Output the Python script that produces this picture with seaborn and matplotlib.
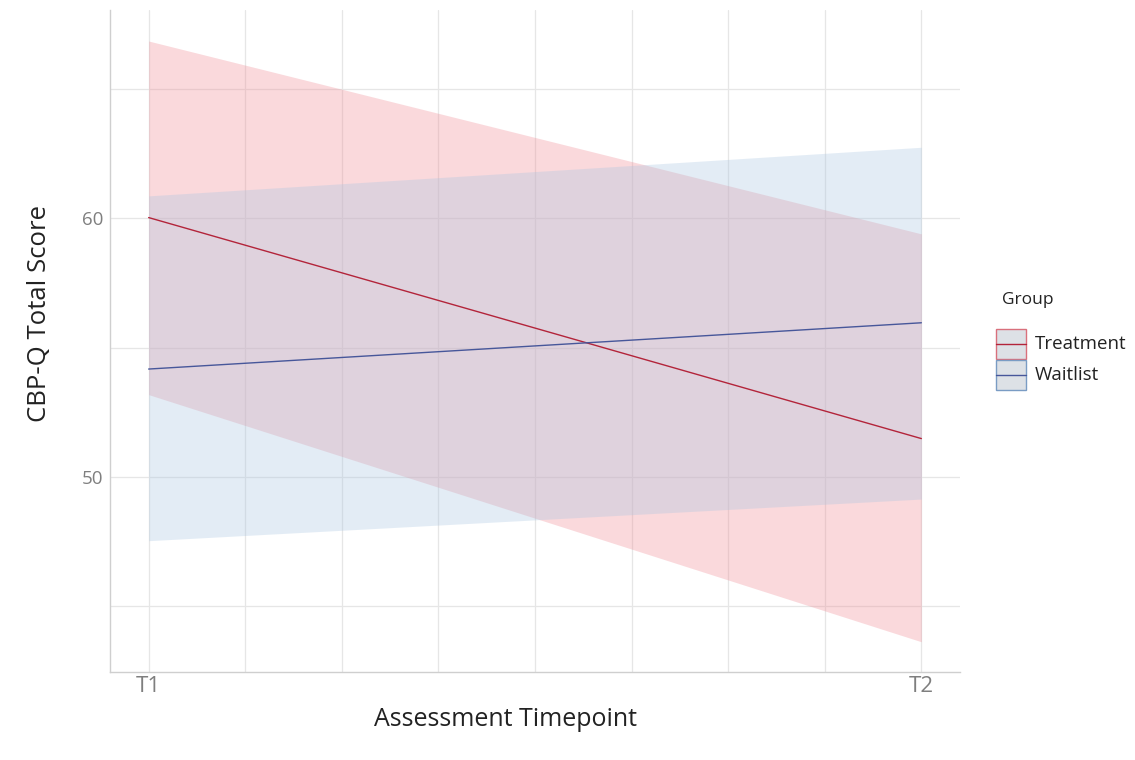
import matplotlib
matplotlib.use("Agg")
import matplotlib.pyplot as plt
import seaborn as sns
import pandas as pd
from matplotlib.patches import Rectangle

# --- data ---
timepoints = [1, 2]
tick_labels = ["T1", "T2"]
groups = ["Treatment", "Waitlist"]
treatment_mean = [60.03, 51.48]
treatment_low = [53.18, 43.62]
treatment_high = [66.86, 59.40]
waitlist_mean = [54.17, 55.96]
waitlist_low = [47.53, 49.14]
waitlist_high = [60.87, 62.75]

# colours
LINE_COLORS = {"Treatment": "#b3243a", "Waitlist": "#47579a"}
FILL_COLORS = {"Treatment": "#f08a94", "Waitlist": "#a9c6e2"}
EDGE_COLORS = {"Treatment": "#d9707c", "Waitlist": "#7a9cc4"}

W, H = 1135, 760

df = pd.DataFrame({
    "Time": timepoints * 2,
    "Score": treatment_mean + waitlist_mean,
    "Low": treatment_low + waitlist_low,
    "High": treatment_high + waitlist_high,
    "Group": [groups[0]] * 2 + [groups[1]] * 2,
})

sns.set_style("white")
plt.rcParams["font.family"] = ["Open Sans", "DejaVu Sans"]

fig = plt.figure(figsize=(W / 100, H / 100), dpi=100)
ax = fig.add_axes([110 / W, 1 - 672 / H, 850 / W, 662 / H])

# confidence bands
for g in groups:
    sub = df[df["Group"] == g]
    ax.fill_between(sub["Time"], sub["Low"], sub["High"],
                    color=FILL_COLORS[g], alpha=0.32, linewidth=0, zorder=2)

sns.lineplot(data=df, x="Time", y="Score", hue="Group", palette=LINE_COLORS,
             linewidth=1.0, legend=False, ax=ax, zorder=3)

# grid like ggplot minimal (major + minor)
grid_x = [1 + i / 8 for i in range(9)]
grid_y = [45, 50, 55, 60, 65]
for gx in grid_x:
    ax.axvline(gx, color="#e6e6e6", linewidth=0.9, zorder=1)
for gy in grid_y:
    ax.axhline(gy, color="#e6e6e6", linewidth=0.9, zorder=1)

ax.set_xlim(0.95, 2.05)
ax.set_ylim(42.45, 68.06)
ax.set_xticks(timepoints)
ax.set_xticklabels(tick_labels)
ax.set_yticks([50, 60])
ax.tick_params(axis="x", labelsize=16, labelcolor="#7f7f7f", length=0, pad=3)
ax.tick_params(axis="y", labelsize=13.5, labelcolor="#7f7f7f", length=0, pad=5)

for side in ["top", "right"]:
    ax.spines[side].set_visible(False)
for side in ["left", "bottom"]:
    ax.spines[side].set_color("#cfcfcf")
    ax.spines[side].set_linewidth(1.0)

ax.set_xlabel("Assessment Timepoint", fontsize=18, color="#222222")
ax.set_ylabel("CBP-Q Total Score", fontsize=18.5, color="#222222")
ax.xaxis.set_label_coords((506 - 110) / 850, (672 - 707) / 662)
ax.yaxis.set_label_coords((52 - 110) / 850, (672 - 313) / 662)

# legend drawn in its own pixel-space axes
lax = fig.add_axes([985 / W, 1 - 400 / H, 150 / W, 115 / H])
lax.set_xlim(985, 1135)
lax.set_ylim(400, 285)
lax.axis("off")
lax.text(1002, 300, "Group", fontsize=12.5, color="#222222", ha="left", va="center")
for i, g in enumerate(groups):
    top = 329 + 31 * i
    lax.add_patch(Rectangle((996, top), 30, 30, facecolor="#dde1e6",
                            edgecolor=EDGE_COLORS[g], linewidth=1.0))
    lax.plot([996, 1026], [top + 15, top + 15], color=LINE_COLORS[g], linewidth=1.0)
    lax.text(1035, top + 15, g, fontsize=13.5, color="#222222", ha="left", va="center")

fig.savefig("out.png", dpi=100)
